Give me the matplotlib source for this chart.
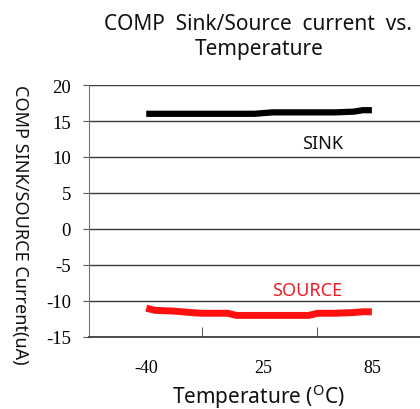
import matplotlib
matplotlib.use("Agg")
import matplotlib.pyplot as plt

temps = [-40, -35, -25, -10, 5, 10, 20, 25, 30, 40, 50, 55, 65, 75, 80, 85]
sink = [16.0, 16.0, 16.0, 16.0, 16.0, 16.0, 16.0, 16.1, 16.2, 16.2, 16.2, 16.2, 16.2, 16.3, 16.5, 16.5]
source = [-11.0, -11.3, -11.4, -11.7, -11.7, -12.0, -12.0, -12.0, -12.0, -12.0, -12.0, -11.7, -11.7, -11.6, -11.5, -11.5]
xtick_vals = [-40, 25, 85]
xtick_labels = ["-40", "25", "85"]
ytick_vals = [-15, -10, -5, 0, 5, 10, 15, 20]

fig = plt.figure(figsize=(4.2, 4.1), dpi=100)
ax = fig.add_axes([89/420, (410-338)/410, 343/420, 252/410])

for y in ytick_vals:
    ax.axhline(y, color="#3a3a3a", lw=1.0, zorder=1)

ax.plot(temps, sink, color="black", lw=4.5, solid_capstyle="butt", zorder=3)
ax.plot(temps, source, color="#ff1010", lw=5, solid_capstyle="butt", zorder=3)

ax.set_xlim(-71.7, 118.3)
ax.set_ylim(-15, 20)

ax.set_yticks(ytick_vals)
ax.set_yticklabels([str(v) for v in ytick_vals], fontfamily="Liberation Serif", fontsize=13.5)
ax.tick_params(axis="y", direction="out", length=4, color="#555555", pad=9)

ax.set_xticks(xtick_vals)
ax.set_xticklabels(xtick_labels, fontfamily="Liberation Serif", fontsize=13)
ax.tick_params(axis="x", which="major", length=0, pad=16)
ax.set_xticks([-8.9, 54.4], minor=True)
ax.tick_params(axis="x", which="minor", direction="in", length=7, color="#333333")

for s in ["top", "right"]:
    ax.spines[s].set_visible(False)
ax.spines["left"].set_color("#777777")
ax.spines["bottom"].set_color("#333333")
ax.spines["bottom"].set_linewidth(1.2)

ax.text(57.8, 12.0, "SINK", fontfamily="Noto Sans", fontsize=13, ha="center", va="center", color="#111111")
ax.text(49, -8.45, "SOURCE", fontfamily="Noto Sans", fontsize=13, ha="center", va="center", color="#ee1c24")

fig.text(258/420, 1 - 30/410, "COMP  Sink/Source  current  vs.", fontfamily="Noto Sans", fontsize=15, ha="center", va="baseline", color="#111111")
fig.text(259/420, 1 - 55/410, "Temperature", fontfamily="Noto Sans", fontsize=15, ha="center", va="baseline", color="#111111")
fig.text(258/420, 1 - 404/410, "Temperature ($\\mathregular{^{O}}$C)", fontfamily="Noto Sans", fontsize=15, ha="center", va="baseline", color="#111111")
fig.text(20/420, 1 - 225/410, "COMP SINK/SOURCE Current(uA)", fontfamily="Noto Sans", fontsize=13, rotation=270, ha="center", va="center", color="#111111")

fig.savefig("out.png", dpi=100)
